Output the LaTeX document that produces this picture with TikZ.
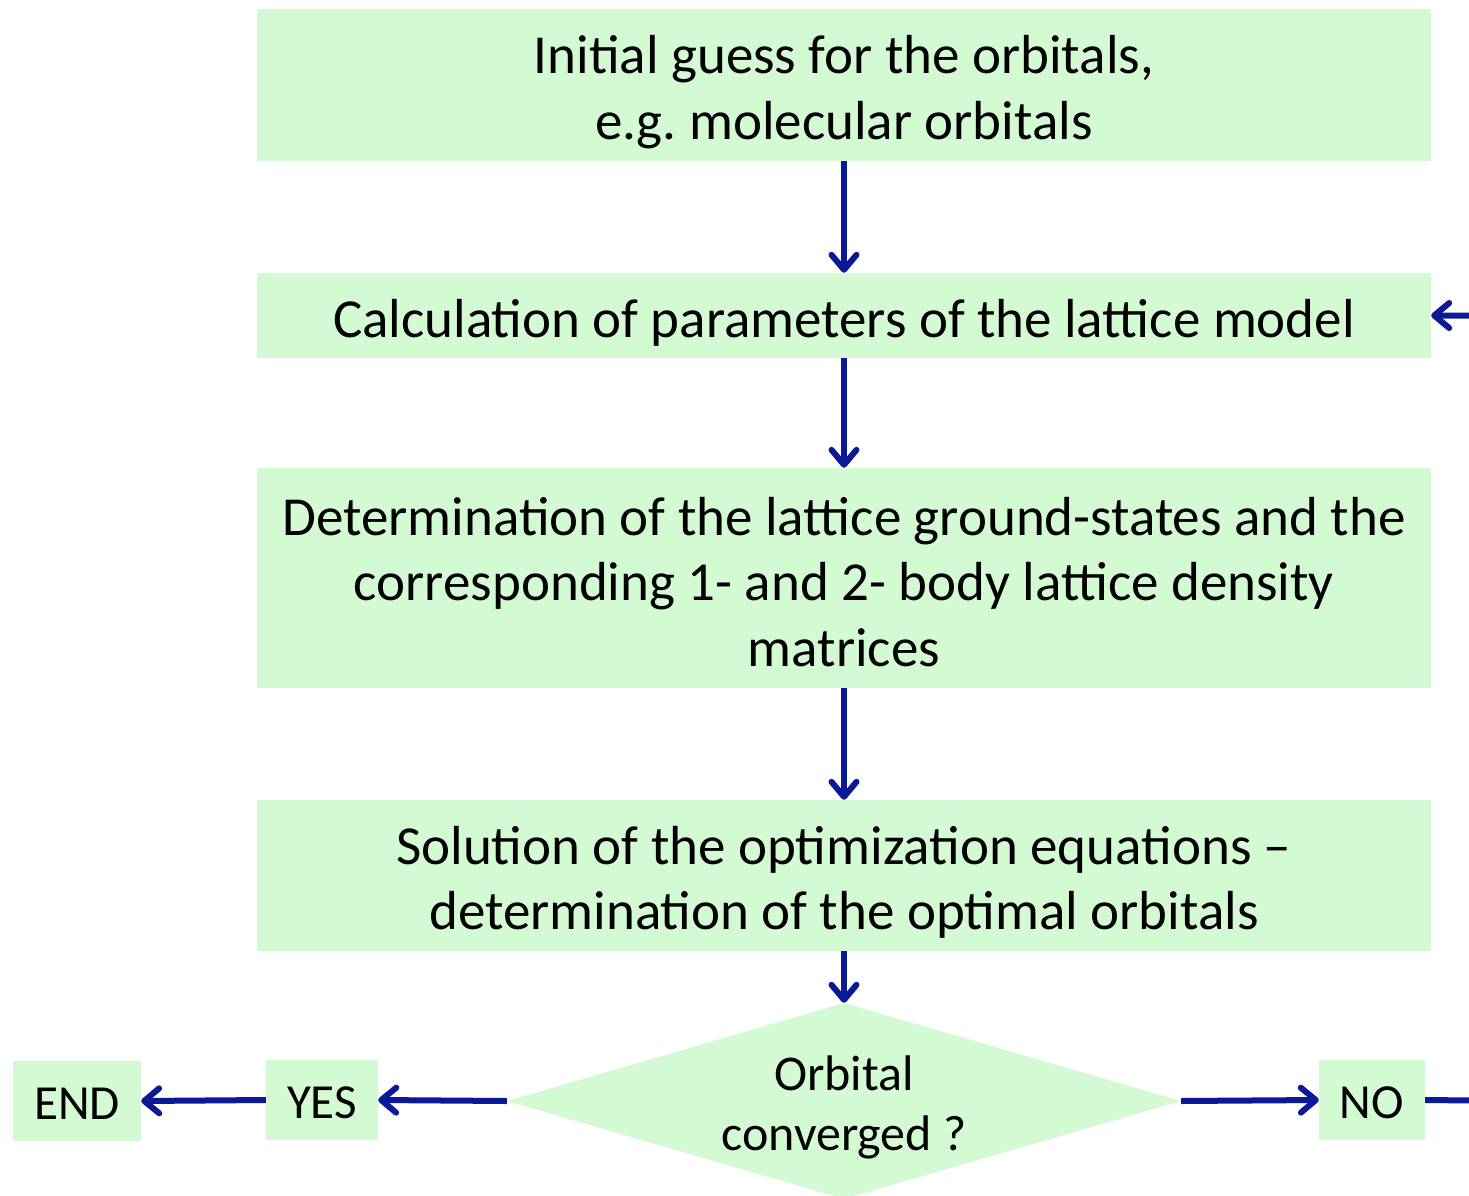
\documentclass[tikz,border=0pt]{standalone}
\usepackage{fontspec}
\setmainfont{Carlito}
\frenchspacing
\usetikzlibrary{shapes.geometric,arrows.meta}
\definecolor{boxgreen}{RGB}{211,250,211}
\definecolor{arrowblue}{RGB}{10,26,150}
\tikzset{
  stepbox/.style={rectangle, fill=boxgreen, draw=none, inner sep=0pt, minimum width=1174pt},
  steptext/.style={inner sep=0pt, align=center, font=\fontsize{55}{65.5}\selectfont},
  smallbox/.style={rectangle, fill=boxgreen, draw=none, inner sep=0pt, minimum height=80pt},
  smalltext/.style={inner sep=0pt, font=\fontsize{49}{58}\selectfont},
  decision/.style={diamond, fill=boxgreen, draw=none, inner sep=0pt, shape aspect=3.44, minimum width=674pt, minimum height=196pt},
  dectext/.style={inner sep=0pt, align=center, font=\fontsize{50}{60}\selectfont},
  flow/.style={draw=arrowblue, line width=6pt, -{Straight Barb[length=15pt,width=25pt,line cap=round,line join=round]}}
}
\begin{document}
\begin{tikzpicture}[x=1pt,y=-1pt]
\useasboundingbox (0,0) rectangle (1469,1196);
\clip (0,0) rectangle (1469,1196);
\node[stepbox, minimum height=152pt] (b1) at (844,85) {};
\node[steptext] (t1) at ([yshift=-7pt]b1.center) {Initial guess for the orbitals,\\e.g. molecular orbitals};
\node[stepbox, minimum height=85pt] (b2) at (844,315.5) {};
\node[steptext] (t2) at ([yshift=-7pt]b2.center) {Calculation of parameters of the lattice model};
\node[stepbox, minimum height=220pt] (b3) at (844,578) {};
\node[steptext] (t3) at ([yshift=-4pt]b3.center) {Determination of the lattice ground-states and the\\corresponding 1- and 2- body lattice density\\matrices};
\node[stepbox, minimum height=151pt] (b4) at (844,875.5) {};
\node[steptext] (t4) at ([yshift=-7pt]b4.center) {Solution of the optimization equations --\\determination of the optimal orbitals};
\node[decision] (d) at (844,1101) {};
\node[dectext] (td) at ([yshift=-6pt]d.center) {Orbital\\converged ?};
\node[smallbox, minimum width=128pt] (end) at (77,1101) {};
\node[smalltext] (tend) at ([yshift=-3pt]end.center) {END};
\node[smallbox, minimum width=112pt] (yes) at (322,1100) {};
\node[smalltext] (tyes) at ([yshift=-3pt]yes.center) {YES};
\node[smallbox, minimum width=106pt] (no) at (1372,1100) {};
\node[smalltext] (tno) at ([yshift=-3pt]no.center) {NO};
\coordinate (loop) at (1520,1101);
\draw[flow] (b1.south) -- (b2.north);
\draw[flow] (b2.south) -- (b3.north);
\draw[flow] (b3.south) -- (b4.north);
\draw[flow] (b4.south) -- (d.north);
\draw[flow] (d.west) -- (yes.east);
\draw[flow] (yes.west) -- (end.east);
\draw[flow] (d.east) -- (no.west);
\draw[flow] (no.east) -- (loop) |- (b2.east);
\end{tikzpicture}
\end{document}
